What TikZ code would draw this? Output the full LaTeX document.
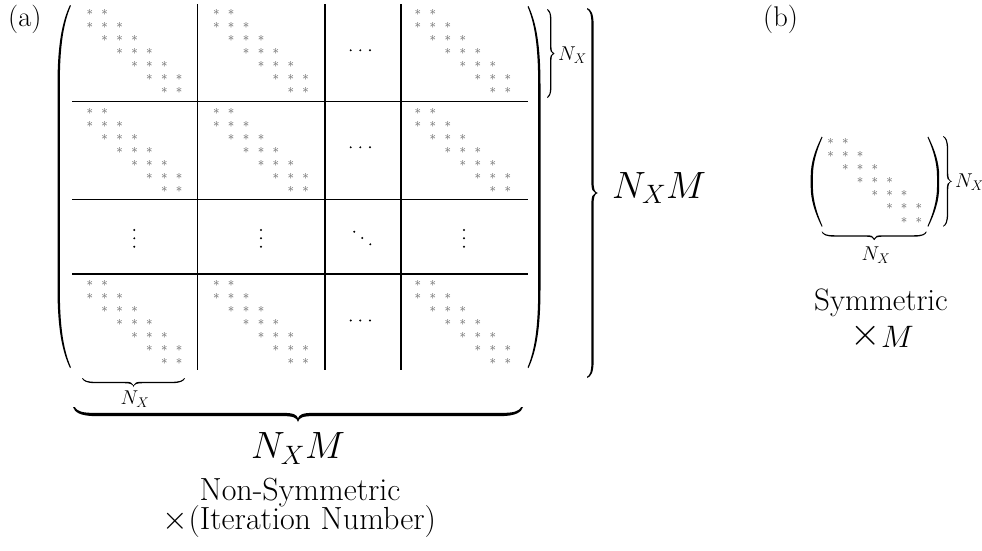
\RequirePackage{fix-cm}
\documentclass[tikz,border=0pt]{standalone}
\newcommand\fsz[1]{\fontsize{#1}{#1}\selectfont}
\tikzset{
  starnode/.style={inner sep=0pt, text=black!65, font=\fsz{13}},
  dotnode/.style={circle, fill=black, inner sep=0pt, minimum size=2.2pt},
  gridline/.style={line width=1.3pt},
  lbl/.style={inner sep=0pt},
}
% TeX-like curly brace: #1 transform, #2 half length, #3 depth, #4 thickness
\newcommand\texbrace[4]{%
\begin{scope}[#1]
\pgfmathsetmacro\bW{#2}\pgfmathsetmacro\bh{#3}\pgfmathsetmacro\bt{#4}
\fill (0,0) .. controls ({0.1*\bh},{0.35*\bh}) and ({0.5*\bh},{\bh/2+\bt/2}) .. ({1.5*\bh},{\bh/2+\bt/2})
 -- ({\bW-1.0*\bh},{\bh/2+\bt/2}) .. controls ({\bW-0.35*\bh},{\bh/2+\bt/2}) and ({\bW-0.05*\bh},{0.7*\bh}) .. (\bW,\bh)
 .. controls ({\bW+0.05*\bh},{0.7*\bh}) and ({\bW+0.35*\bh},{\bh/2+\bt/2}) .. ({\bW+1.0*\bh},{\bh/2+\bt/2})
 -- ({2*\bW-1.5*\bh},{\bh/2+\bt/2}) .. controls ({2*\bW-0.5*\bh},{\bh/2+\bt/2}) and ({2*\bW-0.1*\bh},{0.35*\bh}) .. ({2*\bW},0)
 -- ({2*\bW-0.5*\bt},0) .. controls ({2*\bW-0.3*\bh},{0.3*\bh}) and ({2*\bW-0.6*\bh},{\bh/2-\bt/2}) .. ({2*\bW-1.5*\bh},{\bh/2-\bt/2})
 -- ({\bW+1.0*\bh},{\bh/2-\bt/2}) .. controls ({\bW+0.3*\bh},{\bh/2-\bt/2}) and ({\bW+0.1*\bh},{\bh/2}) .. (\bW,{\bh-1.2*\bt})
 .. controls ({\bW-0.1*\bh},{\bh/2}) and ({\bW-0.3*\bh},{\bh/2-\bt/2}) .. ({\bW-1.0*\bh},{\bh/2-\bt/2})
 -- ({1.5*\bh},{\bh/2-\bt/2}) .. controls ({0.6*\bh},{\bh/2-\bt/2}) and ({0.3*\bh},{0.3*\bh}) .. ({0.5*\bt},0) -- cycle;
\end{scope}}
\begin{document}
\begin{tikzpicture}[x=1pt,y=-1pt]
\useasboundingbox (0,0) rectangle (982,550);

% ---------- stars ----------
\foreach \bx/\by/\dx/\dy [count=\k] in {89.8/12.8/14.9/12.95, 216.3/12.8/14.9/12.95, 417.8/12.8/15/12.95,
  89.8/111.3/14.9/12.95, 216.3/111.3/14.9/12.95, 417.8/111.3/15/12.95,
  89.8/283.3/14.9/12.95, 216.3/283.3/14.9/12.95, 417.8/283.3/15/12.95,
  830.7/141.7/14.7/13.05}{
  \foreach \i/\j in {0/0,0/1,1/0,1/1,1/2,2/1,2/2,2/3,3/2,3/3,3/4,4/3,4/4,4/5,5/4,5/5,5/6,6/5,6/6}{
    \node[starnode] (s\k-\i-\j) at (\bx+\dx*\j, \by+\dy*\i) {$\ast$};
  }
}

% ---------- grid ----------
\foreach \yy in {101.5,199.3,274}{
  \draw[gridline] (72,\yy) -- (528,\yy);
}
\foreach \xx in {197.7,325,401}{
  \draw[gridline] (\xx,4) -- (\xx,370);
}

% ---------- dots ----------
\foreach \yy [count=\r] in {50.3,147.3,320.5}{
  \foreach \xx [count=\c] in {350.7,360.3,370}{
    \node[dotnode] (cd\r-\c) at (\xx,\yy) {};
  }
}
\foreach \xx [count=\c] in {134.3,261,464}{
  \foreach \yy [count=\r] in {230,238.3,246.7}{
    \node[dotnode] (vd\c-\r) at (\xx,\yy) {};
  }
}
\node[dotnode] (dd1) at (354.3,231.7) {};
\node[dotnode] (dd2) at (362.3,238) {};
\node[dotnode] (dd3) at (370.3,244.3) {};

% ---------- parentheses (a) ----------
\fill (70,5) .. controls (62,22) and (57.5,45) .. (57.5,85) -- (57.5,288)
  .. controls (57.5,328) and (62,351) .. (70,368) -- (70.9,367.3)
  .. controls (63.6,350) and (59.8,328) .. (59.8,288) -- (59.8,85)
  .. controls (59.8,45) and (63.6,23) .. (70.9,5.7) -- cycle;
\fill (528.5,6) .. controls (536.5,23) and (540.5,46) .. (540.5,86) -- (540.5,288)
  .. controls (540.5,328) and (536.5,351) .. (528.5,368) -- (527.6,367.3)
  .. controls (534.7,350) and (538.2,328) .. (538.2,288) -- (538.2,86)
  .. controls (538.2,46) and (534.7,23.7) .. (527.6,6.7) -- cycle;

% ---------- parentheses (b) ----------
\fill (821.7,136.7) .. controls (815,150) and (810.7,163) .. (810.7,176) -- (810.7,187)
  .. controls (810.7,200) and (815,213) .. (821.7,226.7) -- (822.5,226.2)
  .. controls (816.8,213) and (812.9,200) .. (812.9,187) -- (812.9,176)
  .. controls (812.9,163) and (816.8,150) .. (822.5,137.2) -- cycle;
\fill (928.3,136.7) .. controls (935,150) and (939.2,163) .. (939.2,176) -- (939.2,187)
  .. controls (939.2,200) and (935,213) .. (928.3,226.7) -- (927.5,226.2)
  .. controls (933.2,213) and (937,200) .. (937,187) -- (937,176)
  .. controls (937,163) and (933.2,150) .. (927.5,137.2) -- cycle;

% ---------- braces ----------
\texbrace{cm={0,-1,-1,0,(547,9)}}{44.5}{7.5}{1.3}
\texbrace{cm={0,-1,-1,0,(587,8)}}{185}{11}{2.2}
\texbrace{shift={(82,378)}}{51.5}{9}{1.4}
\texbrace{shift={(73,407)}}{225}{15}{3.2}
\texbrace{cm={0,-1,-1,0,(943,136)}}{45.35}{9}{1.3}
\texbrace{shift={(821.7,231.7)}}{52.5}{8.5}{1.4}

% ---------- labels ----------
\node[lbl, anchor=base west, font=\fsz{28.5}] (la) at (8,26) {(a)};
\node[lbl, anchor=base west, font=\fsz{28.5}] (lb) at (763,26) {(b)};
\node[lbl, anchor=base west, font=\fsz{20}] (nA1) at (558,60.5) {$N_X$};
\node[lbl, anchor=base west, font=\fsz{38}] (nA2) at (612,198) {$N_XM$};
\node[lbl, anchor=base, font=\fsz{20}] (nA3) at (135,404) {$N_X$};
\node[lbl, anchor=base, font=\fsz{38}] (nA4) at (298,458.3) {$N_XM$};
\node[lbl, anchor=base, font=\fsz{32}] (tA1) at (300,500) {Non-Symmetric};
\node[lbl, anchor=base west, font=\fsz{32}] (tA2) at (162.7,529.5) {{\fsz{33}\smash{$\times$}}(Iteration Number)};
\node[lbl, anchor=base west, font=\fsz{20}] (nB1) at (955,187.3) {$N_X$};
\node[lbl, anchor=base, font=\fsz{20}] (nB2) at (876,260) {$N_X$};
\node[lbl, anchor=base, font=\fsz{31}] (tB1) at (881,310.7) {Symmetric};
\node[lbl, anchor=base west, font=\fsz{31}] (tB2) at (850.5,347.7) {{\fsz{39}\smash{\raisebox{2pt}{$\times$}}}$M$};
\end{tikzpicture}
\end{document}
